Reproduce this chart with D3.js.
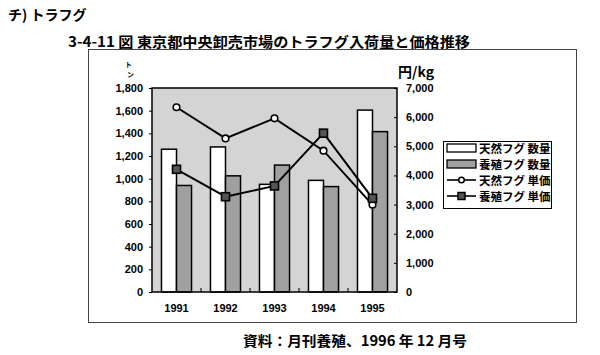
<!DOCTYPE html>
<html><head><meta charset="utf-8">
<script src="https://cdn.jsdelivr.net/npm/d3@7"></script>
<style>body{margin:0;background:#fff}</style>
</head><body>
<svg id="c" width="600" height="355"></svg>
<script>
const years = ["1991","1992","1993","1994","1995"];
const wildQty = [1260, 1280, 950, 985, 1605];
const farmQty = [940, 1025, 1120, 930, 1415];
const wildPrice = [6340, 5270, 5960, 4850, 2990];
const farmPrice = [4210, 3270, 3640, 5450, 3215];
const leftTicks = [0,200,400,600,800,1000,1200,1400,1600,1800];
const rightTicks = [0,1000,2000,3000,4000,5000,6000,7000];
const seriesNames = ["天然フグ 数量","養殖フグ 数量","天然フグ 単価","養殖フグ 単価"];

const svg = d3.select("#c");
const L=152, R=397, T=88, B=292;
const num = "'Liberation Sans', Arial, sans-serif";
const jp = "'Noto Sans CJK JP', sans-serif";

// titles
svg.append("text").attr("x",8).attr("y",20).attr("font-family",jp).attr("font-size",14).attr("font-weight","bold").text("チ) トラフグ");
svg.append("text").attr("x",68).attr("y",47).attr("font-family",jp).attr("font-size",14).attr("font-weight","bold")
  .attr("textLength",402).attr("lengthAdjust","spacingAndGlyphs").text("3-4-11 図 東京都中央卸売市場のトラフグ入荷量と価格推移");
svg.append("text").attr("x",243).attr("y",346).attr("font-family",jp).attr("font-size",14).attr("font-weight","bold")
  .attr("textLength",224).attr("lengthAdjust","spacingAndGlyphs").text("資料：月刊養殖、1996 年 12 月号");

// outer frame
svg.append("rect").attr("x",88.5).attr("y",49.5).attr("width",488).attr("height",273).attr("fill","none").attr("stroke","#444").attr("stroke-width",1);

const x = d3.scaleBand().domain(years).range([L,R]).padding(0);
const xs = d3.scaleBand().domain(["w","f"]).range([0,x.bandwidth()]).paddingInner(0).paddingOuter(0.63);
const yL = d3.scaleLinear().domain([0,1800]).range([B,T]);
const yR = d3.scaleLinear().domain([0,7000]).range([B,T]);

// plot bg
svg.append("rect").attr("x",L).attr("y",T).attr("width",R-L).attr("height",B-T).attr("fill","#d4d4d4");

// bars
const g = svg.append("g");
g.selectAll(".bw").data(years).join("rect")
  .attr("x",(d)=>x(d)+xs("w")).attr("y",(d,i)=>yL(wildQty[i])).attr("width",xs.bandwidth()).attr("height",(d,i)=>B-yL(wildQty[i]))
  .attr("fill","#fff").attr("stroke","#000").attr("stroke-width",1.5);
g.selectAll(".bf").data(years).join("rect")
  .attr("x",(d)=>x(d)+xs("f")).attr("y",(d,i)=>yL(farmQty[i])).attr("width",xs.bandwidth()).attr("height",(d,i)=>B-yL(farmQty[i]))
  .attr("fill","#a0a0a0").attr("stroke","#000").attr("stroke-width",1.5);

// plot border
svg.append("rect").attr("x",L).attr("y",T).attr("width",R-L).attr("height",B-T).attr("fill","none").attr("stroke","#000").attr("stroke-width",1.5);

// axes
const axL = d3.axisLeft(yL).tickValues(leftTicks).tickSize(3).tickFormat(d3.format(","));
const gl = svg.append("g").attr("transform",`translate(${L},0)`).call(axL);
gl.select(".domain").remove();
gl.selectAll("text").attr("font-family",num).attr("font-weight","bold").attr("font-size",11).attr("fill","#000").attr("x",-9);

const axR = d3.axisRight(yR).tickValues(rightTicks).tickSize(-3).tickFormat(d3.format(","));
const gr = svg.append("g").attr("transform",`translate(${R},0)`).call(axR);
gr.select(".domain").remove();
gr.selectAll("text").attr("font-family",num).attr("font-weight","bold").attr("font-size",11).attr("fill","#000").attr("x",9);

const axB = d3.axisBottom(x).tickSize(0);
const gb = svg.append("g").attr("transform",`translate(0,${B})`).call(axB);
gb.select(".domain").remove();
gb.selectAll("text").attr("font-family",num).attr("font-weight","bold").attr("font-size",11).attr("fill","#000").attr("dy","1.55em");
svg.selectAll(".bt").data(years.slice(1)).join("line")
  .attr("x1",d=>x(d)).attr("x2",d=>x(d)).attr("y1",B).attr("y2",B-4).attr("stroke","#000");

// unit labels
svg.append("text").attr("x",125).attr("y",67).attr("font-family",jp).attr("font-size",7).attr("font-weight","bold").text("ト");
svg.append("text").attr("x",127).attr("y",77).attr("font-family",jp).attr("font-size",7).attr("font-weight","bold").text("ン");
svg.append("text").attr("x",398).attr("y",77).attr("font-family",jp).attr("font-size",14).attr("font-weight","bold").text("円/kg");

// lines
const cx = (d)=>x(d)+x.bandwidth()/2;
const lineW = d3.line().x((d,i)=>cx(years[i])).y(d=>yR(d));
svg.append("path").attr("d",lineW(wildPrice)).attr("fill","none").attr("stroke","#000").attr("stroke-width",2);
svg.append("path").attr("d",lineW(farmPrice)).attr("fill","none").attr("stroke","#000").attr("stroke-width",2);
svg.selectAll(".mw").data(wildPrice).join("circle")
  .attr("cx",(d,i)=>cx(years[i])).attr("cy",d=>yR(d)).attr("r",3.3).attr("fill","#fff").attr("stroke","#000").attr("stroke-width",1.6);
svg.selectAll(".mf").data(farmPrice).join("rect")
  .attr("x",(d,i)=>cx(years[i])-4).attr("y",d=>yR(d)-4).attr("width",8).attr("height",8).attr("fill","#555").attr("stroke","#000").attr("stroke-width",1.6);

// legend
const lg = svg.append("g");
lg.append("rect").attr("x",443.5).attr("y",141.5).attr("width",108).attr("height",67).attr("fill","#fff").attr("stroke","#000");
const rows=[148,164,180,196];
seriesNames.forEach((nm,i)=>{
  const y=rows[i];
  if(i===0) lg.append("rect").attr("x",447).attr("y",y-4).attr("width",29).attr("height",8).attr("fill","#fff").attr("stroke","#000").attr("stroke-width",1.3);
  if(i===1) lg.append("rect").attr("x",447).attr("y",y-4).attr("width",29).attr("height",8).attr("fill","#a0a0a0").attr("stroke","#000").attr("stroke-width",1.3);
  if(i>=2){
    lg.append("line").attr("x1",447).attr("x2",476).attr("y1",y).attr("y2",y).attr("stroke","#000").attr("stroke-width",1.6);
    if(i===2) lg.append("circle").attr("cx",461.5).attr("cy",y).attr("r",2.8).attr("fill","#fff").attr("stroke","#000").attr("stroke-width",1.5);
    else lg.append("rect").attr("x",458).attr("y",y-3.5).attr("width",7).attr("height",7).attr("fill","#555").attr("stroke","#000").attr("stroke-width",1.5);
  }
  lg.append("text").attr("x",479).attr("y",y+4.5).attr("font-family",jp).attr("font-size",11.5).attr("font-weight","bold").text(nm);
});
</script>
</body></html>
